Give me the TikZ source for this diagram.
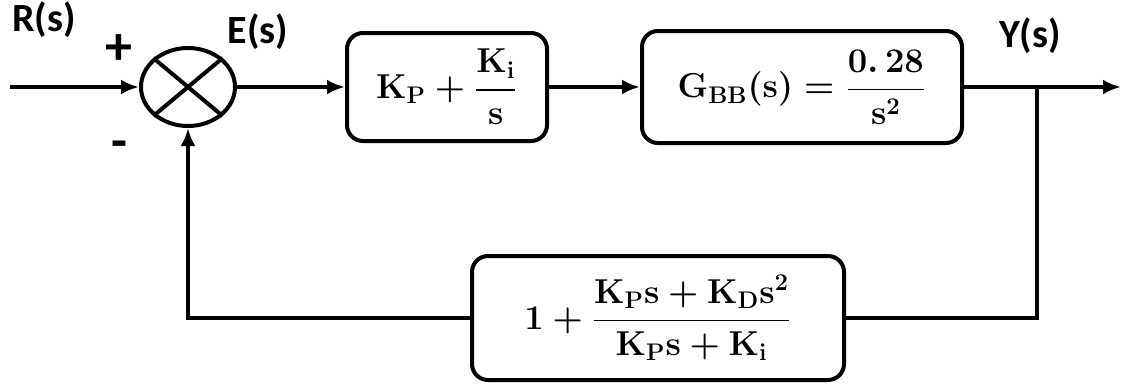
\documentclass[tikz,border=0pt]{standalone}
\usepackage{amsmath}
\usepackage{fontspec}
\setsansfont{Carlito}
\usetikzlibrary{arrows.meta,shapes.geometric}
\tikzset{
  line/.style={line width=2pt},
  arr/.style={line width=2pt,-{Latex[length=9pt,width=7.5pt]}},
  blk/.style={draw,line width=2pt,rounded corners=8pt,inner sep=0pt,font=\fontsize{16.5}{19}\selectfont\boldmath},
  lbl/.style={font=\fontsize{20}{24}\selectfont\sffamily\bfseries,inner sep=0pt},
}
\begin{document}
\begin{tikzpicture}[x=0.5pt,y=-0.5pt]
\useasboundingbox (0,0) rectangle (1123,386);
\coordinate (in) at (10,87);
\node[draw,ellipse,line width=2pt,minimum width=47pt,minimum height=39pt,inner sep=0pt] (sum) at (188,87) {};
\draw[line] (sum.north west) -- (sum.south east);
\draw[line] (sum.north east) -- (sum.south west);
\node[blk,minimum width=100pt,minimum height=54pt] (b1) at (447,87) {$\mathbf{K}_{\mathbf{P}}+\dfrac{\mathbf{K}_{\mathbf{i}}}{\mathbf{s}}$};
\node[blk,minimum width=160pt,minimum height=56pt] (b2) at (802,87) {$\mathbf{G}_{\mathbf{BB}}(\mathbf{s})=\dfrac{0.\,28}{\mathbf{s}^{2}}$};
\node[blk,minimum width=186pt,minimum height=62pt] (fb) at (658,318) {$1+\dfrac{\mathbf{K}_{\mathbf{P}}\mathbf{s}+\mathbf{K}_{\mathbf{D}}\mathbf{s}^{2}}{\mathbf{K}_{\mathbf{P}}\mathbf{s}+\mathbf{K}_{\mathbf{i}}}$};
\coordinate (br) at (1037,87);
\coordinate (out) at (1121,87);
\draw[arr] (in) -- (sum.west);
\draw[arr] (sum.east) -- (b1.west);
\draw[arr] (b1.east) -- (b2.west);
\draw[arr] (b2.east) -- (out);
\draw[line] (br) |- (fb.east);
\draw[arr] (fb.west) -| (sum.south);
\node[lbl] (rs) at (44,20) {R(s)};
\node[lbl,font=\fontsize{27}{27}\selectfont\sffamily\bfseries] (plus) at (119,50) {+};
\node[lbl,font=\fontsize{26}{26}\selectfont\sffamily\bfseries] (minus) at (119,150) {-};
\node[lbl] (es) at (258,32) {E(s)};
\node[lbl] (ys) at (1030,36) {Y(s)};
\end{tikzpicture}
\end{document}
